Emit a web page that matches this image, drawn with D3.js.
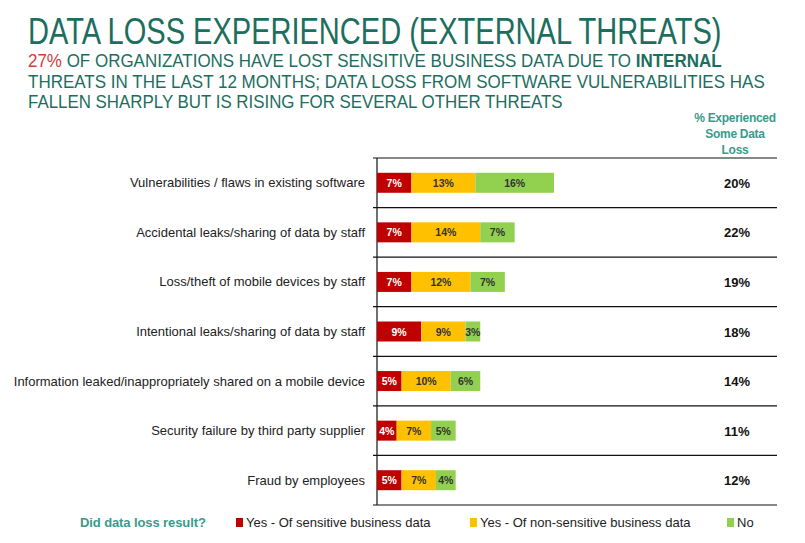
<!DOCTYPE html>
<html>
<head>
<meta charset="utf-8">
<script src="https://cdn.jsdelivr.net/npm/d3@7"></script>
<style>
  body { margin: 0; background: #fff; }
  text { font-family: "Liberation Sans", Arial, sans-serif; }
</style>
</head>
<body>
<div id="chart"></div>
<script>
const categories = [
    "Vulnerabilities / flaws in existing software",
    "Accidental leaks/sharing of data by staff",
    "Loss/theft of mobile devices by staff",
    "Intentional leaks/sharing of data by staff",
    "Information leaked/inappropriately shared on a mobile device",
    "Security failure by third party supplier",
    "Fraud by employees"
];
const sensitive = [7, 7, 7, 9, 5, 4, 5];
const nonSensitive = [13, 14, 12, 9, 10, 7, 7];
const noLoss = [16, 7, 7, 3, 6, 5, 4];
const experienced = [20, 22, 19, 18, 14, 11, 12];

const seriesKeys = ["sensitive", "nonSensitive", "noLoss"];
const seriesNames = ["Yes - Of sensitive business data", "Yes - Of non-sensitive business data", "No"];

const WIDTH = 805, HEIGHT = 543;
const teal = "#1c6e5e";

const svg = d3.select("#chart").append("svg")
    .attr("width", WIDTH)
    .attr("height", HEIGHT);

// a narrow text: squeeze it sideways so it covers the wanted width
function narrowText(x0, y0, size, target) {
    const g = svg.append("g");
    const t = g.append("text")
        .attr("font-size", size)
        .attr("fill", teal);
    return {
        t,
        fit() {
            const w = t.node().getComputedTextLength();
            g.attr("transform", `translate(${x0}, ${y0}) scale(${(target / w).toFixed(4)}, 1)`);
        }
    };
}

// titles
const title = narrowText(28, 43.5, 37.5, 694);
title.t.text("DATA LOSS EXPERIENCED (EXTERNAL THREATS)");
title.fit();

const sub1 = narrowText(28, 67, 18, 694);
sub1.t.append("tspan").attr("fill", "#d33a3a").text("27%");
sub1.t.append("tspan").text(" OF ORGANIZATIONS HAVE LOST SENSITIVE BUSINESS DATA DUE TO  ");
sub1.t.append("tspan").attr("font-weight", "bold").text("INTERNAL");
sub1.fit();

const sub2 = narrowText(28, 87.5, 18.5, 737);
sub2.t.text("THREATS IN THE LAST 12 MONTHS; DATA LOSS FROM SOFTWARE VULNERABILITIES HAS");
sub2.fit();

const sub3 = narrowText(28, 108, 18.5, 535);
sub3.t.text("FALLEN SHARPLY BUT IS RISING FOR SEVERAL OTHER THREATS");
sub3.fit();

// column header
const header = svg.append("text")
    .attr("text-anchor", "middle")
    .attr("font-size", 12)
    .attr("font-weight", "bold")
    .attr("letter-spacing", -0.3)
    .attr("fill", "#3a9a8c");
["% Experienced", "Some Data", "Loss"].forEach((t, i) => {
    header.append("tspan").attr("x", 735).attr("y", 122 + i * 16).text(t);
});

// scales
const y = d3.scaleBand()
    .domain(categories)
    .range([158, 505]);

const x = d3.scaleLinear()
    .domain([0, 36])
    .range([377, 554]);

const barH = 20;

const rows = categories.map((c, i) => ({
    category: c,
    sensitive: sensitive[i],
    nonSensitive: nonSensitive[i],
    noLoss: noLoss[i],
    experienced: experienced[i]
}));

const series = d3.stack().keys(seriesKeys)(rows);

const color = d3.scaleOrdinal()
    .domain(seriesKeys)
    .range(["#c00000", "#ffc000", "#92d050"]);
const labelColor = d3.scaleOrdinal()
    .domain(seriesKeys)
    .range(["#ffffff", "#333333", "#333333"]);

// row separator lines
const lineY = categories.map(c => y(c)).concat([y.range()[1]]);
svg.append("g")
    .selectAll("line")
    .data(lineY)
    .join("line")
    .attr("x1", 373)
    .attr("x2", 777)
    .attr("y1", d => d)
    .attr("y2", d => d)
    .attr("stroke", "#111")
    .attr("stroke-width", 1.2);

// vertical axis line
svg.append("line")
    .attr("x1", x(0)).attr("x2", x(0))
    .attr("y1", y.range()[0]).attr("y2", y.range()[1])
    .attr("stroke", "#111")
    .attr("stroke-width", 1.2);

// category labels
svg.append("g")
    .selectAll("text")
    .data(categories)
    .join("text")
    .attr("x", 365)
    .attr("y", d => y(d) + y.bandwidth() / 2 + 4.5)
    .attr("text-anchor", "end")
    .attr("font-size", 13)
    .attr("fill", "#222")
    .text(d => d);

// bars
const layers = svg.append("g")
    .selectAll("g")
    .data(series)
    .join("g");

layers.selectAll("rect")
    .data(s => s.map(d => ({ key: s.key, d })))
    .join("rect")
    .attr("x", o => x(o.d[0]))
    .attr("width", o => x(o.d[1]) - x(o.d[0]))
    .attr("y", o => y(o.d.data.category) + (y.bandwidth() - barH) / 2)
    .attr("height", barH)
    .attr("fill", o => color(o.key));

layers.selectAll("text")
    .data(s => s.map(d => ({ key: s.key, d })))
    .join("text")
    .attr("x", o => (x(o.d[0]) + x(o.d[1])) / 2)
    .attr("y", o => y(o.d.data.category) + y.bandwidth() / 2 + 4)
    .attr("text-anchor", "middle")
    .attr("font-size", 10.5)
    .attr("font-weight", "bold")
    .attr("fill", o => labelColor(o.key))
    .text(o => (o.d[1] - o.d[0]) + "%");

// experienced column
svg.append("g")
    .selectAll("text")
    .data(rows)
    .join("text")
    .attr("x", 737)
    .attr("y", d => y(d.category) + y.bandwidth() / 2 + 5)
    .attr("text-anchor", "middle")
    .attr("font-size", 13)
    .attr("font-weight", "bold")
    .attr("fill", "#111")
    .text(d => d.experienced + "%");

// legend
svg.append("text")
    .attr("x", 80).attr("y", 527)
    .attr("font-size", 13)
    .attr("font-weight", "bold")
    .attr("letter-spacing", -0.1)
    .attr("fill", "#3a9a8c")
    .text("Did data loss result?");

const legendX = [236, 470, 727];
const legend = svg.append("g")
    .selectAll("g")
    .data(seriesKeys)
    .join("g")
    .attr("transform", (k, i) => `translate(${legendX[i]}, 517)`);

legend.append("rect")
    .attr("width", 7).attr("height", 9)
    .attr("y", 1)
    .attr("fill", k => color(k));

legend.append("text")
    .attr("x", 10).attr("y", 10)
    .attr("font-size", 13)
    .attr("fill", "#222")
    .text((k, i) => seriesNames[i]);
</script>
</body>
</html>
